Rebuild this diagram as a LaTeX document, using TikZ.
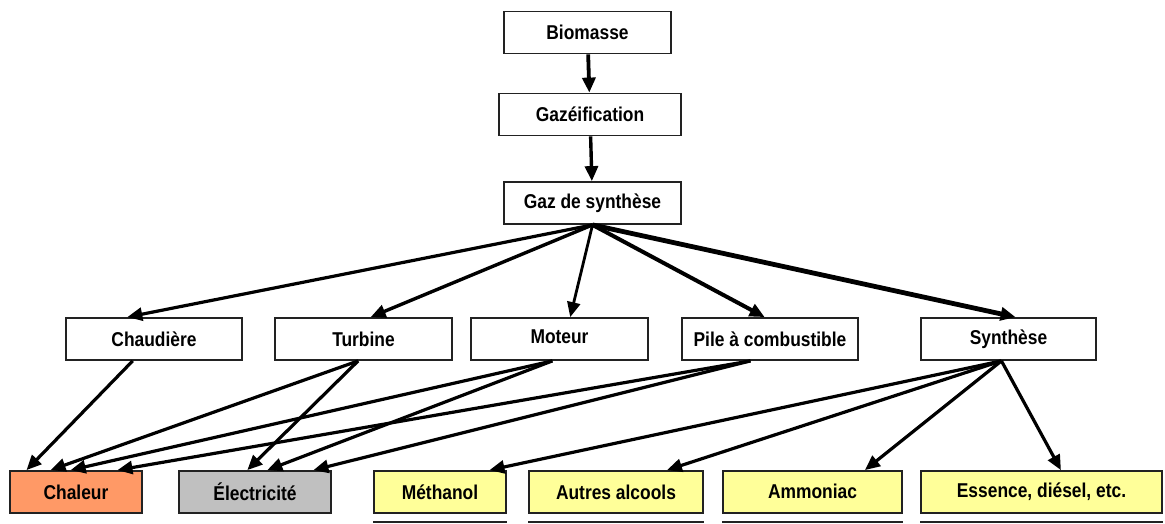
\documentclass[tikz,border=0pt]{standalone}
\usepackage{fontspec}
\setmainfont{Liberation Sans}[FakeStretch=0.87]
\usepackage{tikz}
\usetikzlibrary{arrows.meta, calc}
\definecolor{bmorange}{HTML}{FF9966}
\definecolor{bmgray}{HTML}{C0C0C0}
\definecolor{bmyellow}{HTML}{FFFF99}
\definecolor{bmedge}{HTML}{222222}

\begin{document}
\begin{tikzpicture}[
    x=1pt, y=-1pt,
    box/.style={draw=bmedge, line width=1.8pt, fill=white, inner sep=0pt,
                minimum height=42pt, font=\fontsize{20}{23}\selectfont\bfseries},
    arr/.style={line width=3.2pt, -{Triangle[length=15pt, width=13pt]}},
    cut/.style={draw=bmedge, line width=1.8pt},
]
\useasboundingbox (0,0) rectangle (1165,523);

% Chain at the top
\node[box, minimum width=167pt] (bio)   at (587.5, 32.5)  {Biomasse};
\node[box, minimum width=182pt] (gazef) at (590, 114.5)   {Gazéification};
\node[box, minimum width=177pt] (gaz)   at (592.5, 203)   {Gaz de synthèse};

% Conversion routes
\node[box, minimum width=176pt] (chaud) at (154, 339)   {Chaudière};
\node[box, minimum width=177pt] (turb)  at (363.5, 339) {\raisebox{-3pt}{Turbine}};
\node[box, minimum width=177pt] (mot)   at (559.5, 339) {\raisebox{4pt}{Moteur}};
\node[box, minimum width=176pt] (pile)  at (770, 339)   {Pile à combustible};
\node[box, minimum width=175pt] (synth) at (1008.5, 339){\raisebox{1pt}{Synthèse}};

% Products (bottom row)
\node[box, fill=bmorange, minimum width=132pt] (chal)  at (76, 492)    {Chaleur};
\node[box, fill=bmgray,   minimum width=152pt] (elec)  at (255, 492)   {Électricité};
\node[box, fill=bmyellow, minimum width=132pt] (meth)  at (440, 492)   {Méthanol};
\node[box, fill=bmyellow, minimum width=174pt] (alc)   at (616, 492)   {Autres alcools};
\node[box, fill=bmyellow, minimum width=179pt] (ammo)  at (812.5, 492) {\raisebox{2pt}{Ammoniac}};
\node[box, fill=bmyellow, minimum width=241pt] (ess)   at (1041.5, 492){\raisebox{2pt}{Essence, diésel, etc.}};

% next row, cut off by the page edge
\foreach \n in {meth, alc, ammo, ess}
  \draw[cut] ([yshift=-8pt]\n.south west) -- ([yshift=-8pt]\n.south east);

% Arrows
\draw[arr, line width=3.8pt] (bio) -- (gazef);
\draw[arr, line width=3.4pt] (gazef) -- (gaz);

\foreach \b/\fb/\w in {chaud/0.35/3.2pt, turb/0.54/3.4pt, mot/0.56/2.8pt,
                       pile/0.47/4pt, synth/0.54/4.8pt}
  \draw[arr, line width=\w] (gaz.south) -- ($(\b.north west)!\fb!(\b.north east)$);

\foreach \a/\fa/\b/\fb in {chaud/0.38/chal/0.13, turb/0.47/chal/0.31,
                           mot/0.46/chal/0.46, pile/0.39/chal/0.81,
                           turb/0.47/elec/0.45, mot/0.46/elec/0.58,
                           pile/0.39/elec/0.88,
                           synth/0.46/meth/0.87, synth/0.46/alc/0.79,
                           synth/0.46/ammo/0.79, synth/0.46/ess/0.58}
  \draw[arr] ($(\a.south west)!\fa!(\a.south east)$) -- ($(\b.north west)!\fb!(\b.north east)$);

\end{tikzpicture}
\end{document}
